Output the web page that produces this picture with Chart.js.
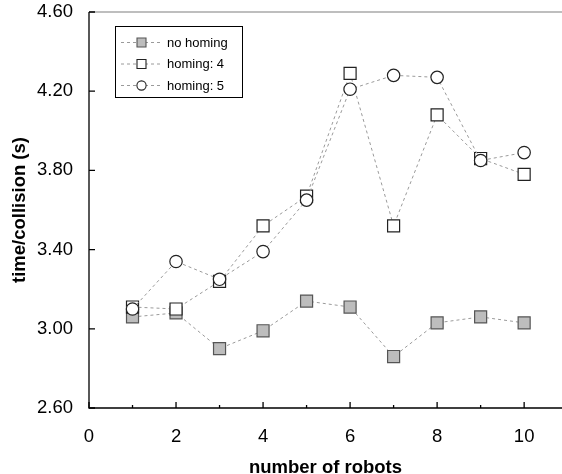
<!DOCTYPE html>
<html>
<head>
<meta charset="utf-8">
<script src="https://cdn.jsdelivr.net/npm/chart.js@4/dist/chart.umd.min.js"></script>
<style>
  html, body { margin: 0; padding: 0; background: #fff; }
  #wrap { width: 562px; height: 474px; position: relative; }
</style>
</head>
<body>
<div id="wrap"><canvas id="chart"></canvas></div>
<script>
// data
var robots = [1, 2, 3, 4, 5, 6, 7, 8, 9, 10];
var noHoming = [3.06, 3.08, 2.90, 2.99, 3.14, 3.11, 2.86, 3.03, 3.06, 3.03];
var homing4 = [3.11, 3.10, 3.24, 3.52, 3.67, 4.29, 3.52, 4.08, 3.86, 3.78];
var homing5 = [3.10, 3.34, 3.25, 3.39, 3.65, 4.21, 4.28, 4.27, 3.85, 3.89];
var xMajorTicks = [0, 2, 4, 6, 8, 10];
var xMinorTicks = [1, 3, 5, 7, 9];
var yTicks = [2.6, 3.0, 3.4, 3.8, 4.2, 4.6];

var FONT = '"Liberation Sans", Arial, sans-serif';

function pts(arr) {
    return robots.map(function(x, i) { return { x: x, y: arr[i] }; });
}

var lineStyle = {
    borderColor: '#9a9a9a',
    borderWidth: 1,
    borderDash: [3, 3],
    tension: 0,
    fill: false
};

var datasets = [
    Object.assign({
        label: 'no homing', data: pts(noHoming), order: 3,
        pointStyle: 'rect', pointRadius: 8.5,
        pointBackgroundColor: '#bdbdbd', pointBorderColor: '#555555', pointBorderWidth: 1.2
    }, lineStyle),
    Object.assign({
        label: 'homing: 4', data: pts(homing4), order: 2,
        pointStyle: 'rect', pointRadius: 8.5,
        pointBackgroundColor: '#ffffff', pointBorderColor: '#222222', pointBorderWidth: 1.2
    }, lineStyle),
    Object.assign({
        label: 'homing: 5', data: pts(homing5), order: 1,
        pointStyle: 'circle', pointRadius: 6.2,
        pointBackgroundColor: '#ffffff', pointBorderColor: '#222222', pointBorderWidth: 1.2
    }, lineStyle)
];

// axes, inward ticks and the grey top border
var framePlugin = {
    id: 'frame',
    beforeDatasetsDraw: function(chart) {
        var ctx = chart.ctx;
        var a = chart.chartArea;
        var xs = chart.scales.x, ys = chart.scales.y;
        ctx.save();
        ctx.strokeStyle = '#a8a8a8';
        ctx.lineWidth = 1.5;
        ctx.beginPath();
        ctx.moveTo(a.left, a.top);
        ctx.lineTo(chart.width, a.top);
        ctx.stroke();

        ctx.strokeStyle = '#000';
        ctx.lineWidth = 1.3;
        ctx.beginPath();
        ctx.moveTo(a.left, a.top);
        ctx.lineTo(a.left, a.bottom);
        ctx.lineTo(chart.width, a.bottom);
        ctx.stroke();

        ctx.beginPath();
        yTicks.forEach(function(v) {
            var y = ys.getPixelForValue(v);
            ctx.moveTo(a.left, y);
            ctx.lineTo(a.left + 6, y);
        });
        xMajorTicks.forEach(function(v) {
            var x = xs.getPixelForValue(v);
            ctx.moveTo(x, a.bottom);
            ctx.lineTo(x, a.bottom - 6);
        });
        xMinorTicks.forEach(function(v) {
            var x = xs.getPixelForValue(v);
            ctx.moveTo(x, a.bottom);
            ctx.lineTo(x, a.bottom - 3);
        });
        ctx.stroke();
        ctx.restore();
    }
};

// legend with dashed line through the marker
var legendPlugin = {
    id: 'lineLegend',
    afterDraw: function(chart) {
        var ctx = chart.ctx;
        var bx = 115.5, by = 26.5, bw = 127, bh = 71;
        var rows = [42.5, 64, 85.5];
        ctx.save();
        ctx.fillStyle = '#fff';
        ctx.fillRect(bx, by, bw, bh);
        ctx.strokeStyle = '#000';
        ctx.lineWidth = 1;
        ctx.strokeRect(bx, by, bw, bh);

        chart.data.datasets.forEach(function(ds, i) {
            var y = rows[i];
            var mx = 141.5;
            ctx.strokeStyle = ds.borderColor;
            ctx.lineWidth = 1;
            ctx.setLineDash(ds.borderDash);
            ctx.beginPath();
            ctx.moveTo(121, y);
            ctx.lineTo(163, y);
            ctx.stroke();
            ctx.setLineDash([]);

            ctx.fillStyle = ds.pointBackgroundColor;
            ctx.strokeStyle = ds.pointBorderColor;
            ctx.lineWidth = 1.1;
            ctx.beginPath();
            if (ds.pointStyle === 'circle') {
                ctx.arc(mx, y, 4.6, 0, Math.PI * 2);
            } else {
                ctx.rect(mx - 4.5, y - 4.5, 9, 9);
            }
            ctx.fill();
            ctx.stroke();

            ctx.fillStyle = '#000';
            ctx.font = '13px ' + FONT;
            ctx.textAlign = 'left';
            ctx.textBaseline = 'middle';
            ctx.fillText(ds.label, 167, y + 0.5);
        });
        ctx.restore();
    }
};

var ctx = document.getElementById('chart').getContext('2d');
var chart = new Chart(ctx, {
    type: 'line',
    data: { datasets: datasets },
    plugins: [framePlugin, legendPlugin],
    options: {
        responsive: true,
        maintainAspectRatio: false,
        animation: false,
        layout: {
            autoPadding: false,
            padding: { top: 12, right: 0, left: 0, bottom: 0 }
        },
        plugins: {
            legend: { display: false },
            tooltip: { enabled: false }
        },
        scales: {
            x: {
                type: 'linear',
                min: 0,
                max: 10.87,
                afterBuildTicks: function(scale) {
                    scale.ticks = xMajorTicks.map(function(v) { return { value: v }; });
                },
                afterFit: function(scale) {
                    scale.height = 66;
                    scale.paddingLeft = 0;
                    scale.paddingRight = 0;
                },
                grid: { display: false, drawTicks: false },
                border: { display: false },
                ticks: {
                    color: '#000',
                    padding: 18,
                    maxRotation: 0,
                    autoSkip: false,
                    font: { family: FONT, size: 18.5 }
                },
                title: {
                    display: true,
                    text: 'number of robots',
                    color: '#000',
                    padding: { top: 0, bottom: -5 },
                    font: { family: FONT, size: 18.5, weight: 'bold' }
                }
            },
            y: {
                min: 2.6,
                max: 4.6,
                afterBuildTicks: function(scale) {
                    scale.ticks = yTicks.map(function(v) { return { value: v }; });
                },
                afterFit: function(scale) {
                    scale.width = 89;
                    scale.paddingTop = 0;
                    scale.paddingBottom = 0;
                },
                grid: { display: false, drawTicks: false },
                border: { display: false },
                ticks: {
                    color: '#000',
                    padding: 16,
                    font: { family: FONT, size: 18.5 },
                    callback: function(v) { return Number(v).toFixed(2); }
                },
                title: {
                    display: true,
                    text: 'time/collision (s)',
                    color: '#000',
                    padding: { top: 9, bottom: 0 },
                    font: { family: FONT, size: 18.5, weight: 'bold' }
                }
            }
        }
    }
});
</script>
</body>
</html>
